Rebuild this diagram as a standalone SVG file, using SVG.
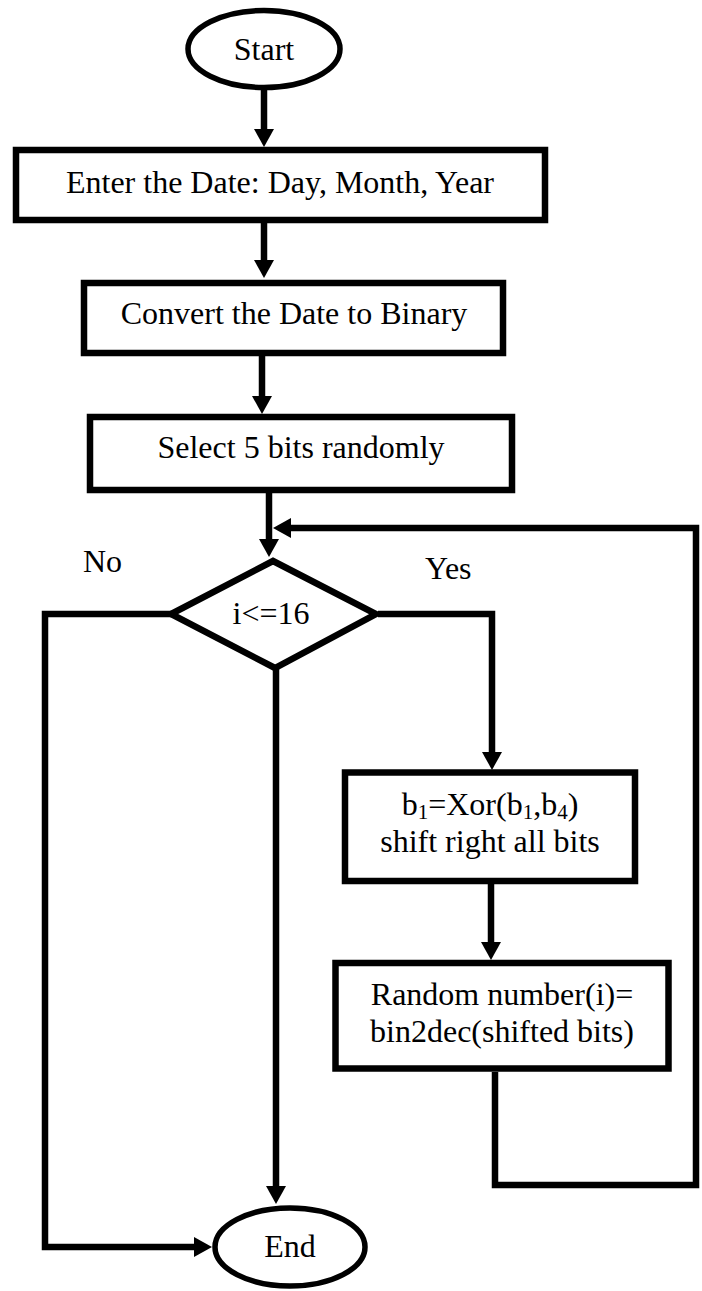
<svg xmlns="http://www.w3.org/2000/svg" width="702" height="1291" viewBox="0 0 702 1291">
  <style>
    .shape { fill: #ffffff; stroke: #000000; stroke-width: 6.5; }
    .oval { fill: #ffffff; stroke: #000000; stroke-width: 5.5; }
    .label { font-family: "Liberation Serif", "Times New Roman", serif; font-size: 32px; fill: #000000; text-anchor: middle; }
    .tag { font-family: "Liberation Serif", "Times New Roman", serif; font-size: 32px; fill: #000000; }
    .wire { fill: none; stroke: #000000; stroke-width: 6.5; stroke-linejoin: miter; stroke-linecap: butt; }
    .sub { font-size: 21px; }
  </style>
  <defs>
    <marker id="head" viewBox="0 -10 18 20" refX="0" refY="0" markerWidth="18" markerHeight="20" markerUnits="userSpaceOnUse" orient="auto">
      <path d="M0,-10 L18,0 L0,10 Z" fill="#000000"/>
    </marker>
  </defs>

  <!-- connectors -->
  <g id="connectors">
    <path class="wire" d="M264,90 V129" marker-end="url(#head)"/>
    <path class="wire" d="M264,223 V260" marker-end="url(#head)"/>
    <path class="wire" d="M262,356 V396" marker-end="url(#head)"/>
    <path class="wire" d="M269,493 V539" marker-end="url(#head)"/>
    <path class="wire" d="M378,614 H492 V752" marker-end="url(#head)"/>
    <path class="wire" d="M491,884 V942" marker-end="url(#head)"/>
    <path class="wire" d="M495,1072 V1185 H696 V528 H291" marker-end="url(#head)"/>
    <path class="wire" d="M172,614 H45 V1247 H194" marker-end="url(#head)"/>
    <path class="wire" d="M276,668 V1186" marker-end="url(#head)"/>
  </g>

  <!-- terminal: start -->
  <g id="start">
    <ellipse class="oval" cx="264" cy="49" rx="76" ry="38.5"/>
    <text class="label" x="264" y="60">Start</text>
  </g>

  <!-- input step -->
  <g id="enter-date">
    <rect class="shape" x="16" y="150" width="529" height="70"/>
    <text class="label" x="280" y="193">Enter the Date: Day, Month, Year</text>
  </g>

  <g id="convert">
    <rect class="shape" x="84" y="283" width="419" height="70"/>
    <text class="label" x="294" y="324">Convert the Date to Binary</text>
  </g>

  <g id="select-bits">
    <rect class="shape" x="90" y="417" width="422" height="73"/>
    <text class="label" x="301" y="458">Select 5 bits randomly</text>
  </g>

  <!-- loop condition -->
  <g id="condition">
    <polygon class="shape" points="273,561 376,614 275,668 171,614"/>
    <text class="label" x="271" y="624">i&lt;=16</text>
  </g>
  <text id="label-no" class="tag" x="83" y="572">No</text>
  <text id="label-yes" class="tag" x="425" y="579">Yes</text>

  <g id="xor-shift">
    <rect class="shape" x="345" y="772.5" width="290" height="108.5"/>
    <text class="label" x="490" y="815">b<tspan class="sub" dy="4">1</tspan><tspan dy="-4">=Xor(b</tspan><tspan class="sub" dy="4">1</tspan><tspan dy="-4">,b</tspan><tspan class="sub" dy="4">4</tspan><tspan dy="-4">)</tspan></text>
    <text class="label" x="490" y="852">shift right all bits</text>
  </g>

  <g id="random-number">
    <rect class="shape" x="335.5" y="963" width="333" height="105.5"/>
    <text class="label" x="502" y="1005">Random number(i)=</text>
    <text class="label" x="502" y="1042">bin2dec(shifted bits)</text>
  </g>

  <!-- terminal: end -->
  <g id="end">
    <ellipse class="oval" cx="290" cy="1247" rx="75" ry="39"/>
    <text class="label" x="290" y="1257">End</text>
  </g>
</svg>
